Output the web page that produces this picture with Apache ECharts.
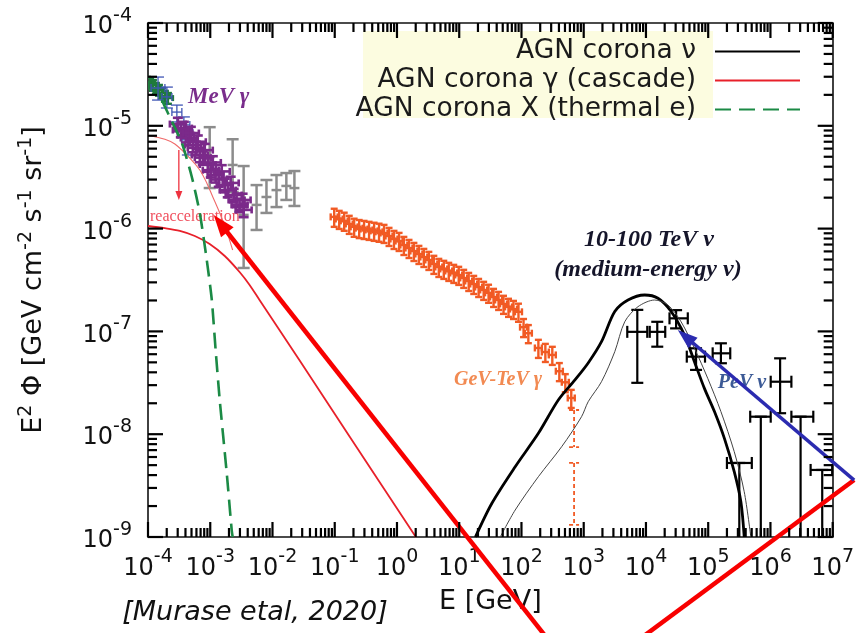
<!DOCTYPE html>
<html>
<head>
<meta charset="utf-8">
<script src="https://cdn.jsdelivr.net/npm/echarts@6/dist/echarts.min.js"></script>
<style>
  html, body { margin: 0; padding: 0; background: #fff; }
  #chart { width: 857px; height: 633px; }
</style>
</head>
<body>
<div id="chart"></div>
<script>
// ---- axis decades (exponents of 10) ----
const xTickExponents = [-4, -3, -2, -1, 0, 1, 2, 3, 4, 5, 6, 7];
const yTickExponents = [-9, -8, -7, -6, -5, -4];

// ---- model curves: E [GeV], E^2 Phi [GeV cm^-2 s^-1 sr^-1] ----
const nuThickE = [18.2, 33.5, 79.3, 187, 391, 723, 1180, 1930, 3155, 5150, 9530, 1.56e4, 2.54e4, 4.16e4, 6.01e4, 8.69e4, 1.26e5, 1.82e5, 2.62e5, 3.35e5, 3.79e5];
const nuThickF = [1e-9, 2.13e-9, 4.83e-9, 1.02e-8, 2.15e-8, 3.37e-8, 4.93e-8, 7.94e-8, 1.56e-7, 2.02e-7, 2.26e-7, 2.10e-7, 1.56e-7, 9.2e-8, 5.07e-8, 2.79e-8, 1.66e-8, 9.1e-9, 4.32e-9, 2.2e-9, 1e-9];
const nuThinE = [45.6, 79.3, 187, 442, 923, 1180, 1930, 3155, 4560, 7450, 1.38e4, 2.25e4, 3.67e4, 6.01e4, 9.82e4, 1.60e5, 2.62e5, 3.79e5, 4.84e5];
const nuThinF = [1e-9, 1.83e-9, 3.86e-9, 7.55e-9, 1.48e-8, 2.07e-8, 3.24e-8, 6.35e-8, 1.24e-7, 1.74e-7, 2.02e-7, 1.81e-7, 1.24e-7, 6.85e-8, 3.5e-8, 1.66e-8, 6.76e-9, 2.76e-9, 1e-9];
const cascadeE = [1e-4, 1.87e-4, 3.25e-4, 5.65e-4, 9.8e-4, 1.71e-3, 2.96e-3, 4.29e-3, 6.19e-3, 2.70e-2, 0.171, 2.01];
const cascadeF = [1.06e-6, 1.01e-6, 9.5e-7, 8.47e-7, 7.08e-7, 5.41e-7, 3.78e-7, 2.83e-7, 2.02e-7, 5.27e-8, 9.6e-9, 1.0e-9];
const reaccE = [1e-4, 1.87e-4, 2.70e-4, 4.70e-4, 6.79e-4, 8.79e-4, 1.10e-3, 1.42e-3, 1.77e-3, 2.29e-3];
const reaccF = [8.1e-6, 7.4e-6, 6.65e-6, 4.86e-6, 3.72e-6, 2.78e-6, 2.03e-6, 1.42e-6, 1.01e-6, 6.19e-7];
const thermalE = [1.67e-4, 2.09e-4, 3.50e-4, 5.06e-4, 6.79e-4, 8.79e-4, 1.06e-3, 1.22e-3, 1.42e-3, 1.84e-3, 2.21e-3, 2.29e-3];
const thermalF = [1.78e-5, 1.33e-5, 6.8e-6, 3.18e-6, 1.42e-6, 4.95e-7, 2.02e-7, 6.6e-8, 2.15e-8, 4.2e-9, 1.17e-9, 1.0e-9];

// ---- measurements ----
// GeV-TeV gamma-ray background
const gevE = [0.098, 0.118, 0.142, 0.171, 0.205, 0.247, 0.296, 0.356, 0.429, 0.515, 0.619, 0.745, 0.895, 1.08, 1.29, 1.56, 1.87, 2.25, 2.70, 3.25, 3.91, 4.70, 5.65, 6.79, 8.17, 9.82, 11.8, 14.2, 17.1, 20.5, 24.7, 29.6, 35.6, 42.9, 51.5, 61.9, 74.5, 89.5, 108, 129, 187, 242, 313, 406, 506, 631];
const gevF = [1.30e-6, 1.24e-6, 1.19e-6, 1.11e-6, 1.04e-6, 1.01e-6, 9.9e-7, 9.7e-7, 9.5e-7, 9.3e-7, 9.06e-7, 8.47e-7, 7.92e-7, 7.57e-7, 6.92e-7, 6.47e-7, 6.05e-7, 5.66e-7, 5.29e-7, 4.95e-7, 4.53e-7, 4.23e-7, 4.05e-7, 3.87e-7, 3.70e-7, 3.54e-7, 3.31e-7, 3.09e-7, 2.89e-7, 2.70e-7, 2.53e-7, 2.37e-7, 2.16e-7, 2.02e-7, 1.85e-7, 1.73e-7, 1.65e-7, 1.55e-7, 1.10e-7, 9.6e-8, 6.9e-8, 6.3e-8, 5.9e-8, 4.1e-8, 3.2e-8, 2.25e-8];
const gevRelErr = 0.2;
const gevLimE = [700, 700];
const gevLimLo = [7.5e-9, 1.31e-9];
const gevLimHi = [1.72e-8, 5.25e-9];
// MeV gamma-ray background
const mevE = [3.02e-4, 3.37e-4, 3.77e-4, 4.06e-4, 4.53e-4, 4.88e-4, 5.25e-4, 5.86e-4, 6.31e-4, 6.79e-4, 7.59e-4, 8.17e-4, 9.12e-4, 1.02e-3, 1.10e-3, 1.22e-3, 1.37e-3, 1.53e-3, 1.71e-3, 1.91e-3, 2.13e-3, 2.38e-3, 2.65e-3, 2.96e-3, 3.31e-3, 3.44e-3];
const mevF = [1.04e-5, 9.1e-6, 9.5e-6, 8.1e-6, 7.6e-6, 8.5e-6, 6.5e-6, 6.1e-6, 7.0e-6, 5.2e-6, 4.9e-6, 5.8e-6, 4.2e-6, 3.7e-6, 4.4e-6, 3.3e-6, 3.0e-6, 3.6e-6, 2.65e-6, 2.37e-6, 2.78e-6, 2.12e-6, 1.90e-6, 1.70e-6, 1.90e-6, 1.52e-6];
const mevRelErr = 0.15;
// hard X-ray background
const xrayE = [9.6e-5, 1.08e-4, 1.20e-4, 1.34e-4, 1.50e-4, 1.67e-4, 1.87e-4, 2.09e-4];
const xrayF = [2.67e-5, 2.61e-5, 2.49e-5, 2.33e-5, 2.23e-5, 2.09e-5, 1.95e-5, 1.86e-5];
const xrayRelErr = 0.12;
const xray2E = [1.45e-4, 2.01e-4, 2.91e-4, 3.77e-4, 4.37e-4];
const xray2F = [2.33e-5, 1.91e-5, 1.36e-5, 1.02e-5, 7.3e-6];
const xray2Elo = [1.12e-4, 1.67e-4, 2.42e-4, 3.02e-4, 3.50e-4];
const xray2Ehi = [1.87e-4, 2.42e-4, 3.50e-4, 4.70e-4, 5.45e-4];
const xray2Flo = [1.78e-5, 1.49e-5, 1.09e-5, 8.1e-6, 5.2e-6];
const xray2Fhi = [2.98e-5, 2.38e-5, 1.59e-5, 1.22e-5, 9.1e-6];
// MeV band, wide uncertainties
const mev2E = [9.8e-4, 2.29e-3, 3.44e-3, 5.55e-3, 8.0e-3, 1.16e-2, 1.67e-2, 2.25e-2];
const mev2F = [4.97e-6, 4.16e-6, 1.36e-6, 1.70e-6, 2.03e-6, 2.37e-6, 2.60e-6, 2.48e-6];
const mev2Flo = [2.48e-6, 2.27e-6, 4.14e-7, 9.7e-7, 1.42e-6, 1.62e-6, 1.90e-6, 1.66e-6];
const mev2Fhi = [9.7e-6, 7.4e-6, 4.06e-6, 2.65e-6, 2.97e-6, 3.32e-6, 3.47e-6, 3.63e-6];
// neutrino flux (null lower bound: extends to the axis floor)
const nuDataE = [7.26e3, 1.52e4, 3.05e4, 6.38e4, 1.60e5, 3.16e5, 7.0e5, 1.43e6, 3.05e6, 6.79e6];
const nuDataElo = [5.01e3, 1.15e4, 2.39e4, 4.53e4, 1.18e5, 2.0e5, 4.73e5, 1.01e6, 2.17e6, 4.42e6];
const nuDataEhi = [1.05e4, 2.04e4, 4.70e4, 8.89e4, 2.26e5, 5.02e5, 1.01e6, 2.17e6, 4.88e6, 9.82e6];
const nuDataF = [9.9e-8, 9.9e-8, 1.34e-7, 5.68e-8, 6.12e-8, 5.25e-9, 1.48e-8, 3.24e-8, 1.48e-8, 4.49e-9];
const nuDataFlo = [3.16e-8, 7.1e-8, 1.07e-7, 4.22e-8, 4.9e-8, null, null, 1.60e-8, null, null];
const nuDataFhi = [1.62e-7, 1.24e-7, 1.61e-7, 6.85e-8, 7.66e-8, 5.25e-9, 1.48e-8, 5.47e-8, 1.48e-8, 4.49e-9];

// ---- annotation arrows: [E1, F1, E2, F2, head at end?] ----
const redArrows = [[421, 7.1e-11, 1.137e-3, 1.355e-6, 1], [4610, 7.96e-11, 2.21e7, 3.58e-9, 0]];
const blueArrows = [[2.21e7, 3.58e-9, 3.25e4, 1.03e-7, 1]];
const reaccArrow = [[3.13e-4, 5.8e-6, 3.13e-4, 1.90e-6, 1]];

// ---- helpers ----
const pow10 = e => Number('1e' + e);
const majorX = xTickExponents.map(pow10);
const majorY = yTickExponents.map(pow10);
function minorValues(exps) {
  const out = [];
  for (let i = 0; i < exps.length - 1; i++) {
    for (let k = 2; k <= 9; k++) out.push(Number(k + 'e' + exps[i]));
  }
  return out;
}
const minorX = minorValues(xTickExponents);
const minorY = minorValues(yTickExponents);

const AX = '#000';
const labelRich = {
  b: { fontSize: 24, fontFamily: 'DejaVu Sans', color: '#111', padding: [8, 0, 0, 0] },
  s: { fontSize: 19, fontFamily: 'DejaVu Sans', color: '#111', padding: [0, 0, 14, 0] }
};
const expLabel = v => '{b|10}{s|' + Math.round(Math.log10(v)) + '}';

function axis(kind, position, extra) {
  const isX = kind === 'x';
  const base = {
    type: 'log', logBase: 10,
    min: isX ? 1e-4 : 1e-9, max: isX ? 1e7 : 1e-4,
    position: position,
    axisLine: { show: true, onZero: false, lineStyle: { color: '#111', width: 1.6 } },
    axisTick: { show: false },
    axisLabel: { show: false },
    splitLine: { show: false },
    minorTick: { show: false },
    minorSplitLine: { show: false }
  };
  return Object.assign(base, extra || {});
}

function errorBars(name, rows, opt) {
  return {
    type: 'custom', name: name, xAxisIndex: 0, yAxisIndex: 0,
    clip: true, silent: true, z: opt.z || 2,
    data: rows.map((r, i) => [r[0], r[1], i]),
    encode: { x: 0, y: 1 },
    renderItem: function (params, api) {
      const r = rows[api.value(2)];
      const cs = params.coordSys;
      const c = api.coord([r[0], r[1]]);
      const st = { stroke: opt.color, lineWidth: opt.width, lineDash: opt.dash || null, fill: null };
      const children = [];
      const seg = (x1, y1, x2, y2) => children.push({ type: 'line', shape: { x1, y1, x2, y2 }, style: st });
      let xl = c[0] - (opt.halfW || 0), xr = c[0] + (opt.halfW || 0);
      if (r[2] != null) { xl = api.coord([r[2], r[1]])[0]; xr = api.coord([r[3], r[1]])[0]; }
      const yt = api.coord([r[0], r[5]])[1];
      const yb = r[4] != null ? api.coord([r[0], r[4]])[1] : cs.y + cs.height + 2;
      if (xr - xl > 0.5) seg(xl, c[1], xr, c[1]);
      seg(c[0], yt, c[0], yb);
      if (opt.capX && xr - xl > 0.5) {
        seg(xl, c[1] - opt.capX, xl, c[1] + opt.capX);
        seg(xr, c[1] - opt.capX, xr, c[1] + opt.capX);
      }
      if (opt.capY) {
        seg(c[0] - opt.capY, yt, c[0] + opt.capY, yt);
        if (r[4] != null) seg(c[0] - opt.capY, yb, c[0] + opt.capY, yb);
      }
      return { type: 'group', children: children };
    }
  };
}

function arrows(name, segs, opt) {
  return {
    type: 'custom', name: name, xAxisIndex: 0, yAxisIndex: 0,
    clip: false, silent: true, z: 20,
    data: segs.map((s, i) => [s[0], s[1], i]),
    encode: { x: 0, y: 1 },
    renderItem: function (params, api) {
      const s = segs[api.value(2)];
      const p1 = api.coord([s[0], s[1]]);
      const p2 = api.coord([s[2], s[3]]);
      const dx = p2[0] - p1[0], dy = p2[1] - p1[1];
      const L = Math.sqrt(dx * dx + dy * dy), ux = dx / L, uy = dy / L;
      const children = [];
      let end = p2;
      if (s[4]) {
        const bx = p2[0] - ux * opt.headLen, by = p2[1] - uy * opt.headLen;
        const hw = opt.headW / 2;
        children.push({
          type: 'polygon',
          shape: { points: [[p2[0], p2[1]], [bx - uy * hw, by + ux * hw], [bx + uy * hw, by - ux * hw]] },
          style: { fill: opt.color }
        });
        end = [bx + ux * 2, by + uy * 2];
      }
      children.push({
        type: 'line', shape: { x1: p1[0], y1: p1[1], x2: end[0], y2: end[1] },
        style: { stroke: opt.color, lineWidth: opt.width }
      });
      return { type: 'group', children: children };
    }
  };
}

// inward frame ticks on all four edges, one item per tick value
function frameTicks(kind, values, len) {
  return {
    type: 'custom', name: 'ticks-' + kind + len, xAxisIndex: 0, yAxisIndex: 0,
    clip: false, silent: true, z: 30,
    data: values.map((v, i) => kind === 'x' ? [v, 1e-6, i] : [1e-1, v, i]),
    encode: { x: 0, y: 1 },
    renderItem: function (params, api) {
      const cs = params.coordSys;
      const p = api.coord([api.value(0), api.value(1)]);
      const w = 2.2;
      const st = { fill: AX };
      if (kind === 'x') {
        return { type: 'group', children: [
          { type: 'rect', shape: { x: p[0] - w / 2, y: cs.y + cs.height - len, width: w, height: len }, style: st },
          { type: 'rect', shape: { x: p[0] - w / 2, y: cs.y, width: w, height: len }, style: st }
        ] };
      }
      return { type: 'group', children: [
        { type: 'rect', shape: { x: cs.x, y: p[1] - w / 2, width: len, height: w }, style: st },
        { type: 'rect', shape: { x: cs.x + cs.width - len, y: p[1] - w / 2, width: len, height: w }, style: st }
      ] };
    }
  };
}

const zip = (a, b) => a.map((v, i) => [v, b[i]]);
const rel = (E, F, err) => E.map((e, i) => [e, F[i], null, null, F[i] * (1 - err), F[i] * (1 + err)]);

const NU = 'AGN corona ν';
const GAMMA = 'AGN corona γ (cascade)';
const XRAY = 'AGN corona X (thermal e)';

const chart = echarts.init(document.getElementById('chart'), null, { renderer: 'canvas' });
chart.setOption({
  backgroundColor: '#fff',
  animation: false,
  grid: { left: 148, top: 23, width: 688, height: 514, containLabel: false },
  xAxis: [
    axis('x', 'bottom', {
      axisLabel: { show: true, customValues: majorX, formatter: expLabel, rich: labelRich, margin: 11 },
      name: 'E [GeV]', nameLocation: 'middle', nameGap: 51,
      nameTextStyle: { fontFamily: 'DejaVu Sans', fontSize: 27, color: '#111' }
    }),
    axis('x', 'top')
  ],
  yAxis: [
    axis('y', 'left', {
      axisLabel: { show: true, customValues: majorY, formatter: expLabel, rich: labelRich, margin: 16 },
      name: 'E{s|2} Φ [GeV cm{s|-2} s{s|-1} sr{s|-1}]', nameLocation: 'middle', nameGap: 98, nameRotate: 90,
      nameTextStyle: {
        fontFamily: 'DejaVu Sans', fontSize: 27, color: '#111',
        rich: { s: { fontFamily: 'DejaVu Sans', fontSize: 19, color: '#111', padding: [0, 0, 14, 0] } }
      }
    }),
    axis('y', 'right')
  ],
  legend: {
    data: [NU, GAMMA, XRAY],
    orient: 'vertical', align: 'right',
    right: 56, top: 37, padding: 0,
    itemWidth: 85, itemHeight: 14, itemGap: 0,
    selectedMode: false,
    itemStyle: { opacity: 0 },
    textStyle: { fontFamily: 'DejaVu Sans', fontSize: 26.5, color: '#1a1a1a', lineHeight: 29, padding: [0, 14, 0, 0] }
  },
  graphic: [
    { type: 'rect', z: 0, silent: true, shape: { x: 363, y: 31, width: 350, height: 87 }, style: { fill: '#fcfce0' } },
    { type: 'text', z: 1, silent: true, x: 188, y: 97, style: { text: 'MeV γ', fill: '#7a2d8c', font: 'italic bold 23px "Liberation Serif"', align: 'left', verticalAlign: 'middle' } },
    { type: 'text', z: 1, silent: true, x: 649, y: 240, style: { text: '10-100 TeV ν', fill: '#15152a', font: 'italic bold 24px "Liberation Serif"', align: 'center', verticalAlign: 'middle' } },
    { type: 'text', z: 1, silent: true, x: 648, y: 270, style: { text: '(medium-energy ν)', fill: '#15152a', font: 'italic bold 24px "Liberation Serif"', align: 'center', verticalAlign: 'middle' } },
    { type: 'text', z: 1, silent: true, x: 498, y: 380, style: { text: 'GeV-TeV γ', fill: '#f28a52', font: 'italic bold 20px "Liberation Serif"', align: 'center', verticalAlign: 'middle' } },
    { type: 'text', z: 1, silent: true, x: 742, y: 383, style: { text: 'PeV ν', fill: '#3c5a96', font: 'italic bold 20px "Liberation Serif"', align: 'center', verticalAlign: 'middle' } },
    { type: 'text', z: 1, silent: true, x: 150, y: 217, style: { text: 'reacceleration', fill: '#f0505e', font: '16px "Liberation Serif"', align: 'left', verticalAlign: 'middle' } },
    { type: 'text', z: 1, silent: true, x: 255, y: 613, style: { text: '[Murase etal, 2020]', fill: '#111', font: 'italic 27px "DejaVu Sans"', align: 'center', verticalAlign: 'middle' } }
  ],
  series: [
    frameTicks('x', majorX, 15),
    frameTicks('x', minorX, 9),
    frameTicks('y', majorY, 15),
    frameTicks('y', minorY, 9),
    errorBars('GeV-TeV γ', rel(gevE, gevF, gevRelErr), { color: '#f15a24', width: 2.4, halfW: 3.5, capX: 3.5, capY: 3.5 }),
    errorBars('GeV-TeV γ limits', gevLimE.map((e, i) => [e, gevLimHi[i], null, null, gevLimLo[i], gevLimHi[i]]),
      { color: '#f15a24', width: 1.8, halfW: 0, capY: 5, dash: [4, 3] }),
    errorBars('X-ray', rel(xrayE, xrayF, xrayRelErr), { color: '#1f7a3c', width: 2.4, halfW: 5, capX: 3, capY: 4 }),
    errorBars('X-ray 2', xray2E.map((e, i) => [e, xray2F[i], xray2Elo[i], xray2Ehi[i], xray2Flo[i], xray2Fhi[i]]),
      { color: '#3f55b5', width: 1.3, capX: 4, capY: 6 }),
    errorBars('MeV band', mev2E.map((e, i) => [e, mev2F[i], null, null, mev2Flo[i], mev2Fhi[i]]),
      { color: '#8c8c8c', width: 2.5, halfW: 5, capY: 6 }),
    errorBars('MeV γ', rel(mevE, mevF, mevRelErr), { color: '#7b2a8a', width: 2.6, halfW: 8, capX: 3.5, capY: 5 }),
    errorBars('neutrinos', nuDataE.map((e, i) => [e, nuDataF[i], nuDataElo[i], nuDataEhi[i], nuDataFlo[i], nuDataFhi[i]]),
      { color: '#000', width: 2.2, capX: 6, capY: 6 }),
    { type: 'line', name: NU, data: zip(nuThickE, nuThickF), smooth: 0.3, symbol: 'none', z: 4,
      lineStyle: { color: '#000', width: 2.8 }, itemStyle: { color: '#000' } },
    { type: 'line', name: 'AGN corona ν (alt)', data: zip(nuThinE, nuThinF), smooth: 0.3, symbol: 'none', z: 4,
      lineStyle: { color: '#444', width: 1 }, itemStyle: { color: '#444' } },
    { type: 'line', name: GAMMA, data: zip(cascadeE, cascadeF), smooth: 0.3, symbol: 'none', z: 4,
      lineStyle: { color: '#e8202a', width: 1.8 }, itemStyle: { color: '#e8202a' } },
    { type: 'line', name: 'reacceleration', data: zip(reaccE, reaccF), smooth: 0.3, symbol: 'none', z: 4,
      lineStyle: { color: '#f06a6a', width: 1.1 }, itemStyle: { color: '#f06a6a' } },
    { type: 'line', name: XRAY, data: zip(thermalE, thermalF), smooth: 0.2, symbol: 'none', z: 4,
      lineStyle: { color: '#1b8a45', width: 2.6, type: [16, 8] }, itemStyle: { color: '#1b8a45' } },
    arrows('reacceleration arrow', reaccArrow, { color: '#ee3340', width: 1.3, headLen: 9, headW: 7 }),
    arrows('red arrows', redArrows, { color: '#f80000', width: 4.5, headLen: 22, headW: 16 }),
    arrows('blue arrow', blueArrows, { color: '#2b2bb0', width: 3.5, headLen: 20, headW: 14 })
  ]
});
</script>
</body>
</html>
